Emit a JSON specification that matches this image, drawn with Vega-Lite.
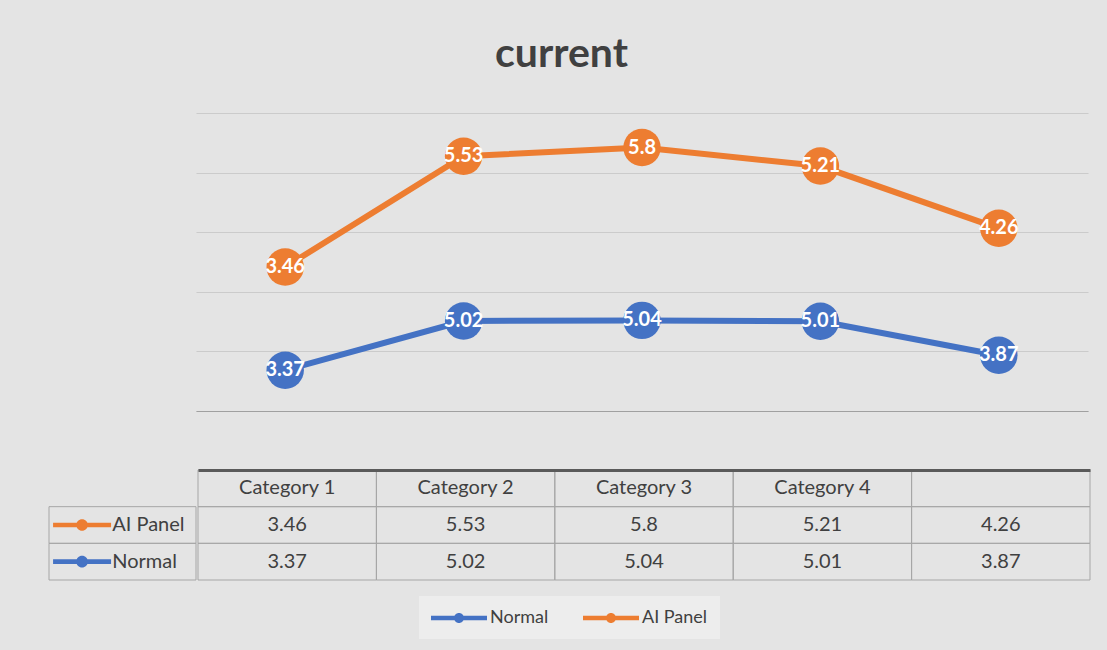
{
  "$schema": "https://vega.github.io/schema/vega-lite/v6.json",
  "background": "#e4e4e4",
  "padding": {"left": 48, "right": 20, "top": 34, "bottom": 13},
  "title": {"text": "current", "fontSize": 41, "font": "Lato", "fontWeight": "bold", "color": "#404040", "anchor": "middle", "offset": 37, "dx": -8},
  "datasets": {
    "vals": [
      {"cat": "Category 1", "series": "AI Panel", "value": 3.46},
      {"cat": "Category 2", "series": "AI Panel", "value": 5.53},
      {"cat": "Category 3", "series": "AI Panel", "value": 5.8},
      {"cat": "Category 4", "series": "AI Panel", "value": 5.21},
      {"cat": "", "series": "AI Panel", "value": 4.26},
      {"cat": "Category 1", "series": "Normal", "value": 3.37},
      {"cat": "Category 2", "series": "Normal", "value": 5.02},
      {"cat": "Category 3", "series": "Normal", "value": 5.04},
      {"cat": "Category 4", "series": "Normal", "value": 5.01},
      {"cat": "", "series": "Normal", "value": 3.87}
    ]
  },
  "spacing": 58,
  "vconcat": [
    {
      "spacing": 0,
      "hconcat": [
        {"width": 147, "height": 298, "data": {"values": []}, "mark": "point"},
        {
          "width": 892,
          "height": 298,
          "data": {"name": "vals"},
          "transform": [
            {"stack": "value", "groupby": ["cat"], "sort": [{"field": "series", "order": "descending"}], "as": ["v0", "v1"]}
          ],
          "encoding": {
            "x": {"field": "cat", "type": "nominal", "sort": ["Category 1", "Category 2", "Category 3", "Category 4", ""], "scale": {"paddingInner": 0, "paddingOuter": 0}, "axis": {"labels": false, "ticks": false, "title": null, "domainColor": "#a0a0a0", "domainWidth": 1.2, "grid": false}},
            "y": {"field": "v1", "type": "quantitative", "scale": {"domain": [2, 12]}, "axis": {"values": [2, 4, 6, 8, 10, 12], "labels": false, "ticks": false, "domain": false, "title": null, "grid": true, "gridColor": "#cbcbcb", "gridWidth": 1}},
            "color": {
              "field": "series", "type": "nominal",
              "scale": {"domain": ["Normal", "AI Panel"], "range": ["#4472C4", "#ED7D31"]},
              "legend": {
                "orient": "bottom", "direction": "horizontal", "title": null,
                "symbolType": "M-2.8,-0.22L2.8,-0.22L2.8,0.22L-2.8,0.22Z M-0.5,0 A0.5,0.5 0 1,1 0.5,0 A0.5,0.5 0 1,1 -0.5,0 Z",
                "symbolSize": 400, "symbolStrokeWidth": 0, "symbolOffset": 18,
                "labelFontSize": 18, "labelFont": "Lato", "labelColor": "#404040",
                "fillColor": "#ededed", "padding": 12, "offset": 15, "columnPadding": 34, "labelOffset": 21,
                "encode": {"symbols": {"update": {"fill": {"scale": "color", "field": "value"}, "opacity": {"value": 1}}}}
              }
            }
          },
          "layer": [
            {"mark": {"type": "line", "strokeWidth": 6}},
            {"mark": {"type": "point", "filled": true, "size": 1400, "opacity": 1}},
            {"mark": {"type": "text", "fontWeight": "bold", "fontSize": 20, "font": "Lato", "fill": "white"},
             "encoding": {"text": {"field": "value", "type": "nominal"}, "color": {"value": "white"}}}
          ]
        }
      ]
    },
    {
      "spacing": 0,
      "hconcat": [
        {
          "width": 147,
          "height": 110,
          "data": {"name": "vals"},
          "transform": [{"filter": "datum.cat == 'Category 1'"}],
          "encoding": {
            "y": {"field": "series", "type": "nominal", "scale": {"domain": ["header", "AI Panel", "Normal"], "paddingInner": 0, "paddingOuter": 0}, "axis": null}
          },
          "layer": [
            {"mark": {"type": "rect", "fill": "transparent", "stroke": "#a6a6a6", "strokeWidth": 1},
             "encoding": {"x": {"datum": 0, "type": "quantitative", "scale": {"domain": [0, 1]}, "axis": null}, "x2": {"datum": 1}}},
            {"mark": {"type": "point", "shape": "M-1,-0.08L1,-0.08L1,0.08L-1,0.08Z M-0.2,0 A0.2,0.2 0 1,1 0.2,0 A0.2,0.2 0 1,1 -0.2,0 Z", "filled": true, "size": 3364, "opacity": 1},
             "encoding": {"x": {"datum": 0.225, "type": "quantitative"}, "color": {"field": "series", "type": "nominal"}}},
            {"mark": {"type": "text", "align": "left", "fontSize": 20, "font": "Lato", "color": "#404040"},
             "encoding": {"x": {"datum": 0.43, "type": "quantitative"}, "text": {"field": "series"}}}
          ]
        },
        {
          "width": 892,
          "height": 110,
          "data": {"name": "vals"},
          "encoding": {
            "x": {"field": "cat", "type": "nominal", "sort": ["Category 1", "Category 2", "Category 3", "Category 4", ""], "scale": {"paddingInner": 0, "paddingOuter": 0}, "axis": {"orient": "top", "labels": false, "ticks": false, "title": null, "domainColor": "#5a5a5a", "domainWidth": 3}}
          },
          "layer": [
            {"mark": {"type": "rect", "fill": "transparent", "stroke": "#a6a6a6", "strokeWidth": 1},
             "encoding": {"y": {"field": "series", "type": "nominal", "scale": {"domain": ["header", "AI Panel", "Normal"], "paddingInner": 0, "paddingOuter": 0}, "axis": null}}},
            {"transform": [{"filter": "datum.series == 'Normal'"}],
             "mark": {"type": "rect", "fill": "transparent", "stroke": "#a6a6a6", "strokeWidth": 1},
             "encoding": {"y": {"datum": "header", "type": "nominal"}}},
            {"transform": [{"filter": "datum.series == 'Normal'"}],
             "mark": {"type": "text", "fontSize": 20, "font": "Lato", "color": "#404040"},
             "encoding": {"y": {"datum": "header", "type": "nominal"}, "text": {"field": "cat"}}},
            {"mark": {"type": "text", "fontSize": 20, "font": "Lato", "color": "#404040"},
             "encoding": {"y": {"field": "series", "type": "nominal"}, "text": {"field": "value", "type": "nominal"}}}
          ]
        }
      ]
    }
  ],
  "config": {
    "view": {"stroke": null},
    "font": "Lato",
    "legend": {"layout": {"bottom": {"anchor": "middle"}}}
  }
}
